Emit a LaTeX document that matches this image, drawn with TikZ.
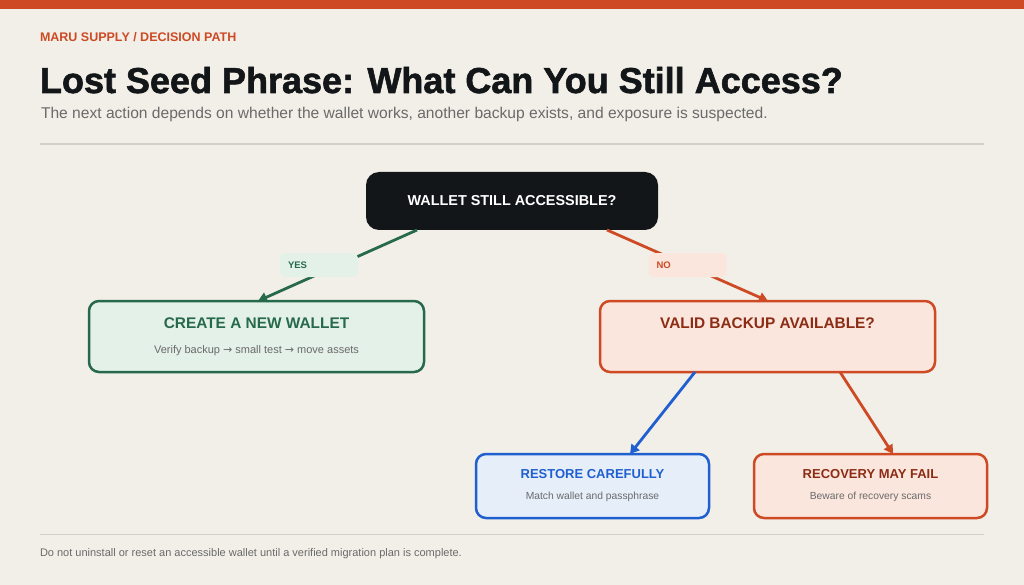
\documentclass[tikz,border=0pt]{standalone}
\usepackage{fontspec}
\setmainfont{Liberation Sans}
\newfontfamily\heavyfont{Liberation Sans}[BoldFeatures={FakeBold=1.6}]
\newfontfamily\arrowfont{DejaVu Sans}
\usetikzlibrary{arrows.meta}

\definecolor{paper}{HTML}{F2EFE8}
\definecolor{rust}{HTML}{CD4A24}
\definecolor{rustdark}{HTML}{8C2C14}
\definecolor{rustfill}{HTML}{FBE6DD}
\definecolor{pine}{HTML}{26694B}
\definecolor{pinefill}{HTML}{E4F1E8}
\definecolor{cobalt}{HTML}{1F5FCF}
\definecolor{cobaltfill}{HTML}{E6EEFA}
\definecolor{ink}{HTML}{131618}
\definecolor{slate}{HTML}{6A6A6A}
\definecolor{rule}{HTML}{D3CFC7}

\newcommand{\ra}{{\arrowfont\char"2192}}

\begin{document}
\begin{tikzpicture}[x=1pt,y=-1pt,
    every node/.style={inner sep=0pt, outer sep=0pt},
    card/.style={draw, line width=2.5pt, rounded corners=10pt, align=center,
      font=\fontsize{11}{25}\selectfont, text=slate},
    bigcard/.style={card, minimum width=335pt, minimum height=71pt},
    smallcard/.style={card, minimum width=233pt, minimum height=64pt,
      font=\fontsize{10.3}{21}\selectfont},
    tag/.style={fill=#1, rounded corners=5pt, minimum width=78pt, minimum height=24pt,
      text width=62pt, align=left, font=\bfseries\fontsize{9.5}{11}\selectfont},
    link/.style={line width=2.8pt, -{Triangle[length=9pt,width=10pt]}}]

  \useasboundingbox (0,0) rectangle (1024,585);
  \fill[paper] (0,0) rectangle (1024,585);
  \fill[rust] (0,0) rectangle (1024,9);

  % heading
  \node[anchor=base west, text=rust, font=\bfseries\fontsize{12.5}{14}\selectfont] (kicker) at (40,41.5) {MARU SUPPLY / DECISION PATH};
  \node[anchor=base west, text=ink, font=\heavyfont\bfseries\fontsize{36}{40}\selectfont] (title) at (40,93) {Lost Seed Phrase: What Can You Still Access?};
  \node[anchor=base west, text=slate, font=\fontsize{15.6}{17}\selectfont] (lede) at (41,119) {The next action depends on whether the wallet works, another backup exists, and exposure is suspected.};
  \draw[rule, line width=1.6pt] (40,144) -- (984,144);

  % decision nodes
  \node[fill=ink, rounded corners=13pt, minimum width=292pt, minimum height=58pt,
    text=white, font=\bfseries\fontsize{14.4}{16}\selectfont] (access) at (512,201) {WALLET STILL ACCESSIBLE?};

  \node[bigcard, draw=pine, fill=pinefill] (create) at (256.5,336.5)
    {{\bfseries\fontsize{15.4}{25}\selectfont\color{pine}CREATE A NEW WALLET}\\
     Verify backup \ra{} small test \ra{} move assets};
  \node[bigcard, draw=rust, fill=rustfill] (backup) at (767.5,336.5)
    {{\bfseries\fontsize{15.4}{25}\selectfont\color{rustdark}VALID BACKUP AVAILABLE?}\\
     \phantom{Verify}};

  \node[smallcard, draw=cobalt, fill=cobaltfill] (restore) at (592.5,486)
    {{\bfseries\fontsize{13}{21}\selectfont\color{cobalt}RESTORE CAREFULLY}\\
     Match wallet and passphrase};
  \node[smallcard, draw=rust, fill=rustfill] (fail) at (870.5,486)
    {{\bfseries\fontsize{13}{21}\selectfont\color{rustdark}RECOVERY MAY FAIL}\\
     Beware of recovery scams};

  % connectors
  \draw[link, pine] ([xshift=-95pt]access.south) -- ([xshift=1.5pt]create.north);
  \draw[link, rust] ([xshift=95pt]access.south) -- ([xshift=0.5pt]backup.north);
  \draw[link, cobalt] ([xshift=-72.5pt]backup.south) -- ([xshift=37.5pt]restore.north);
  \draw[link, rust] ([xshift=72.5pt]backup.south) -- ([xshift=22.5pt]fail.north);

  \node[tag=pinefill, text=pine] (yes) at (319,265) {YES};
  \node[tag=rustfill, text=rust] (no) at (687.5,265) {NO};

  % footer
  \draw[rule, line width=0.8pt] (40,534) -- (984,534);
  \node[anchor=base west, text=slate, font=\fontsize{11}{12}\selectfont] (note) at (40,556.5) {Do not uninstall or reset an accessible wallet until a verified migration plan is complete.};
\end{tikzpicture}
\end{document}
